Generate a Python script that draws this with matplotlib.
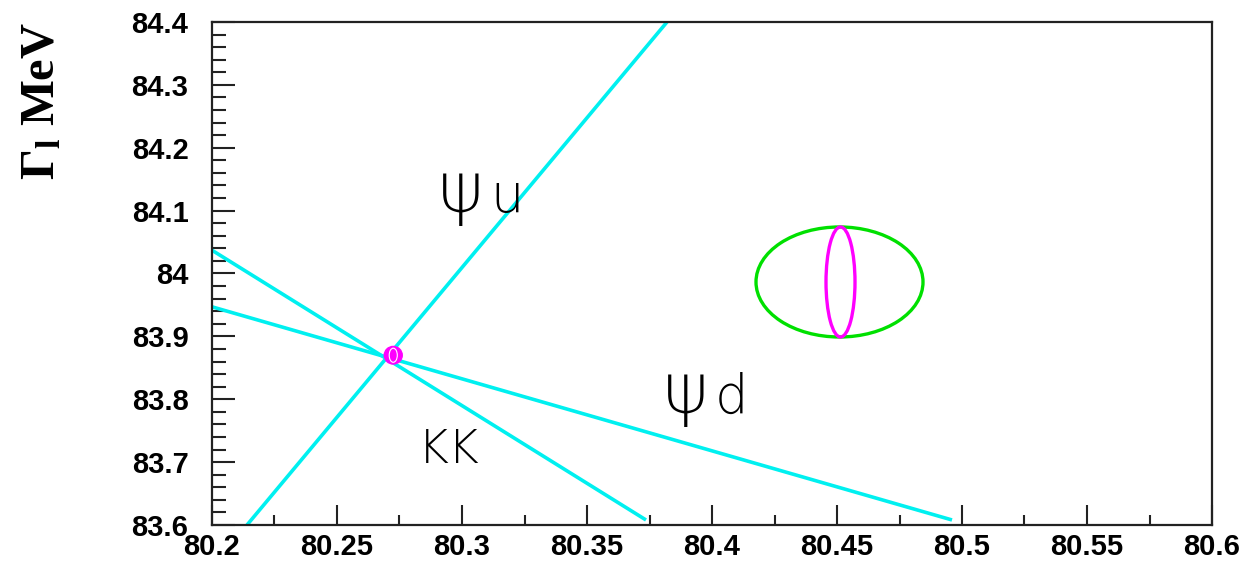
import matplotlib
matplotlib.use("Agg")
import matplotlib.pyplot as plt
from matplotlib.patches import Ellipse
from matplotlib.ticker import MultipleLocator, FuncFormatter

# constraint lines in the (M_W, Gamma_l) plane: start/end points
psi_u_x = [80.214, 80.382]
psi_u_y = [83.600, 84.400]
kk_x = [80.200, 80.3736]
kk_y = [84.037, 83.608]
psi_d_x = [80.200, 80.496]
psi_d_y = [83.947, 83.608]

# fit result near the crossing point
fit_x, fit_y = 80.2725, 83.870
fit_w, fit_h = 0.0072, 0.028

# measured value: 1-sigma ellipse (green) and inner contour (magenta)
meas_x, meas_y = 80.451, 83.9865
meas_w, meas_h = 0.0668, 0.175
inner_w = 0.0116

# line labels: (greek part, latin part, x, y)
labels = [("ψ", "u", 80.2904, 84.098), ("ψ", "d", 80.3804, 83.778)]
kk_label = ("KK", 80.2824, 83.699)

plt.rcParams['mathtext.fontset'] = 'custom'
plt.rcParams['mathtext.rm'] = 'Liberation Serif:bold'
plt.rcParams['mathtext.bf'] = 'Liberation Serif:bold'
plt.rcParams['mathtext.it'] = 'Liberation Serif:bold'

fig = plt.figure(figsize=(12.47, 5.62), dpi=100)
ax = fig.add_axes([212 / 1247, 1 - 525 / 562, 1000 / 1247, 503 / 562])

cyan = '#00f0f0'
for xs, ys in [(psi_u_x, psi_u_y), (kk_x, kk_y), (psi_d_x, psi_d_y)]:
    ax.plot(xs, ys, color=cyan, lw=2.6, solid_capstyle='butt')

ax.add_patch(Ellipse((meas_x, meas_y), meas_w, meas_h, fill=False,
                     ec='#00e000', lw=2.4))
ax.add_patch(Ellipse((meas_x + 0.0004, meas_y), inner_w, meas_h, fill=False,
                     ec='#ff00ff', lw=2.4))

ax.add_patch(Ellipse((fit_x, fit_y), fit_w, fit_h, fc='#ff00ff',
                     ec='#ff00ff', lw=1.0, zorder=3))
ax.add_patch(Ellipse((fit_x, fit_y), fit_w * 0.45, fit_h * 0.8, fill=False,
                     ec='white', lw=0.8, zorder=4))

# x offset of the latin letter after the psi, in axis units
letter_dx = 0.0208
for g, l, x, y in labels:
    ax.text(x, y, g, fontsize=50, family='DejaVu Sans',
            fontweight='light', ha='left', va='baseline')
    ax.text(x + letter_dx, y, l, fontsize=38, family='DejaVu Sans',
            fontweight='light', ha='left', va='baseline')
ax.text(kk_label[1], kk_label[2], kk_label[0], fontsize=34, family='DejaVu Sans',
        fontweight='light', ha='left', va='baseline')

ax.set_xlim(80.2, 80.6)
ax.set_ylim(83.6, 84.4)

ax.xaxis.set_major_locator(MultipleLocator(0.05))
ax.xaxis.set_minor_locator(MultipleLocator(0.025))
ax.yaxis.set_major_locator(MultipleLocator(0.1))
ax.yaxis.set_minor_locator(MultipleLocator(0.02))


def _fmt(v, pos):
    return f"{v:.2f}".rstrip('0').rstrip('.')


ax.xaxis.set_major_formatter(FuncFormatter(_fmt))
ax.yaxis.set_major_formatter(FuncFormatter(_fmt))

ax.tick_params(which='both', direction='in', top=False, right=False,
               color='#222222', width=1.5)
ax.tick_params(axis='x', which='major', length=14.4, pad=6)
ax.tick_params(axis='x', which='minor', length=7.2)
ax.tick_params(axis='y', which='major', length=16.6, pad=17)
ax.tick_params(axis='y', which='minor', length=10)
for lab in ax.get_xticklabels() + ax.get_yticklabels():
    lab.set_fontfamily('Liberation Sans')
    lab.set_fontweight('bold')
    lab.set_fontsize(21)

for sp in ax.spines.values():
    sp.set_linewidth(1.6)
    sp.set_color('#222222')

fig.text(42 / 1247, 1 - 22 / 562, r'$\Gamma_{\mathrm{l}}$ MeV', rotation=90,
         ha='center', va='top', fontsize=35, family='Liberation Serif',
         fontweight='bold')

fig.savefig('out.png', dpi=100)
